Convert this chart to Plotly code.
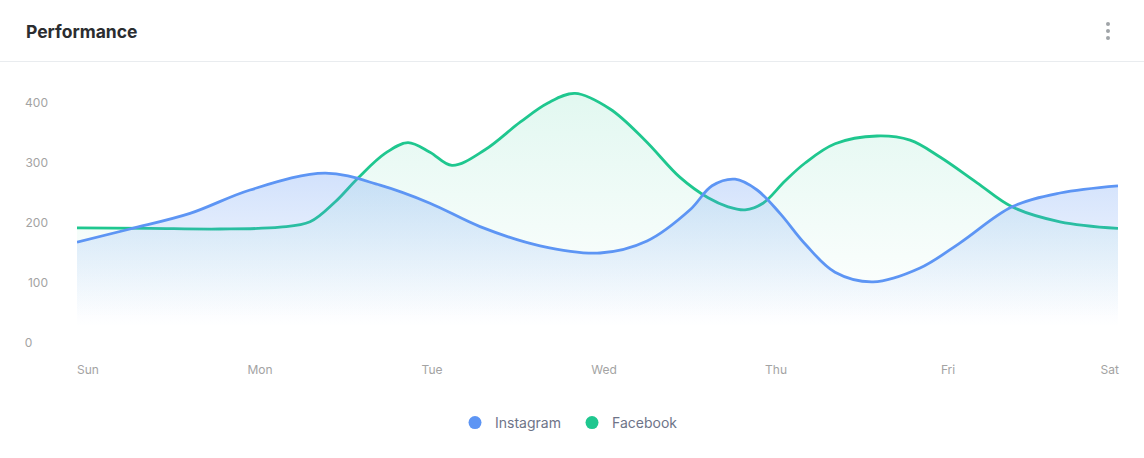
import plotly.graph_objects as go

# ---- data ----
day_labels = ["Sun", "Mon", "Tue", "Wed", "Thu", "Fri", "Sat"]
day_tick_pos = [0, 1, 2, 3, 4, 5, 5.94]

insta_x = [-0.064, 0.244, 0.593, 0.942, 1.378, 1.698, 1.988, 2.279, 2.628, 2.977,
           3.250, 3.500, 3.628, 3.762, 3.890, 4.023, 4.169, 4.343, 4.564, 4.837,
           5.070, 5.372, 5.651, 5.988]
insta_y = [168, 190, 216, 255, 283, 263, 233, 194, 162, 150,
           170, 222, 262, 273, 255, 216, 165, 118, 102, 125,
           167, 227, 250, 262]

fb_x = [-0.064, 0.360, 0.767, 1.116, 1.291, 1.436, 1.570, 1.727, 1.860, 1.988,
        2.116, 2.308, 2.512, 2.674, 2.831, 3.035, 3.238, 3.442, 3.605, 3.721,
        3.820, 3.924, 4.052, 4.169, 4.343, 4.587, 4.779, 4.953, 5.169, 5.372,
        5.651, 5.988]
fb_y = [192, 191, 190, 193, 202, 235, 275, 316, 334, 318,
        296, 322, 368, 400, 416, 390, 338, 276, 242, 227,
        222, 233, 270, 300, 332, 345, 338, 310, 267, 227,
        202, 191]

y_ticks = [0, 100, 200, 300, 400]
y_max = 450

BLUE = "#5d95f4"
GREEN = "#1fc78f"

fig = go.Figure()

fig.add_trace(go.Scatter(
    x=fb_x, y=fb_y, mode="lines", name="Facebook", showlegend=False,
    line=dict(color=GREEN, width=2.8, shape="spline", smoothing=1.0),
    fill="tozeroy",
    fillgradient=dict(type="vertical", start=0.1 * max(fb_y), stop=max(fb_y),
                      colorscale=[[0, "rgba(31,199,143,0)"], [1, "rgba(31,199,143,0.13)"]]),
    hoverinfo="skip",
))
fig.add_trace(go.Scatter(
    x=insta_x, y=insta_y, mode="lines", name="Instagram", showlegend=False,
    line=dict(color=BLUE, width=2.8, shape="spline", smoothing=1.0),
    fill="tozeroy",
    fillgradient=dict(type="vertical", start=0.1 * max(insta_y), stop=max(insta_y),
                      colorscale=[[0, "rgba(93,149,244,0)"], [1, "rgba(93,149,244,0.28)"]]),
    hoverinfo="skip",
))

# legend entries (circle markers)
fig.add_trace(go.Scatter(x=[None], y=[None], mode="markers", name="Instagram",
                         marker=dict(color=BLUE, size=13, symbol="circle")))
fig.add_trace(go.Scatter(x=[None], y=[None], mode="markers", name="Facebook",
                         marker=dict(color=GREEN, size=13, symbol="circle")))

W, H = 1144, 458
ML, MR, MT, MB = 77, 26, 73, 115
pw, ph = W - ML - MR, H - MT - MB

def px_x(p):
    return (p - ML) / pw

def px_y(p):
    return (H - MB - p) / ph

shapes = [
    dict(type="line", xref="paper", yref="paper", x0=px_x(0), x1=px_x(W),
         y0=px_y(61.5), y1=px_y(61.5), line=dict(color="#e9ecef", width=1)),
]
for cy in (24, 31, 38):
    shapes.append(dict(type="circle", xref="paper", yref="paper",
                       x0=px_x(1106), x1=px_x(1110), y0=px_y(cy + 2), y1=px_y(cy - 2),
                       fillcolor="#a0a4a8", line=dict(width=0)))

fig.update_layout(
    width=W, height=H,
    margin=dict(l=ML, r=MR, t=MT, b=MB),
    paper_bgcolor="white", plot_bgcolor="white",
    font=dict(family="Inter, Roboto, sans-serif"),
    shapes=shapes,
    annotations=[dict(text="<b>Performance</b>", xref="paper", yref="paper",
                      x=px_x(24), y=px_y(31), xanchor="left", yanchor="middle",
                      showarrow=False, font=dict(size=17.5, color="#2b2d30"))],
    showlegend=True,
    legend=dict(orientation="h", x=px_x(572), xanchor="center", y=px_y(423), yanchor="middle",
                font=dict(size=14, color="#6e7488"), itemwidth=30, entrywidth=72,
                bgcolor="rgba(0,0,0,0)", traceorder="normal"),
    xaxis=dict(range=[insta_x[0], insta_x[-1]], tickvals=day_tick_pos, ticktext=day_labels,
               showgrid=False, zeroline=False, showline=False, ticks="",
               tickfont=dict(size=12, color="#a3a3a3"), ticklabelstandoff=18,
               fixedrange=True),
    yaxis=dict(range=[0, y_max], tickvals=y_ticks,
               ticktext=[("0\u2007\u2007" if v == 0 else str(v)) for v in y_ticks],
               showgrid=False, zeroline=False, showline=False, ticks="",
               tickfont=dict(size=12, color="#a3a3a3"), ticklabelstandoff=28,
               fixedrange=True),
)

fig.write_html("out.html", config={"displayModeBar": False},
               post_script="document.body.style.margin='0';")
